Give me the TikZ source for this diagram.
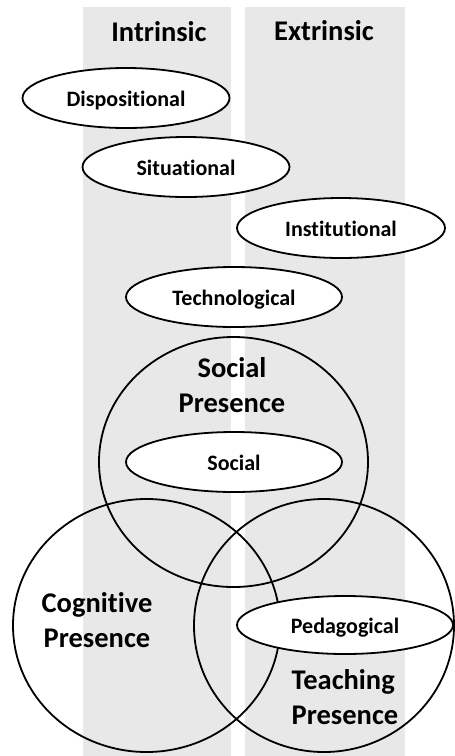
\documentclass[tikz,border=0pt]{standalone}
\usepackage{fontspec}
\setmainfont[Ligatures=NoCommon]{Carlito}
\usetikzlibrary{shapes.geometric}
\definecolor{colgray}{RGB}{232,232,232}
\begin{document}
\begin{tikzpicture}[x=1pt,y=-1pt,
  column/.style={fill=colgray,draw=none},
  factor/.style={ellipse,draw=black,line width=1.8pt,fill=white,inner sep=0pt,
    minimum width=#1,minimum height=60pt,text height=16pt,text depth=0pt,
    font=\fontsize{22}{26}\selectfont\bfseries},
  factor/.default=207pt,
  presence/.style={ellipse,draw=black,line width=1.8pt,inner sep=0pt},
  heading/.style={anchor=base,inner sep=0pt,font=\fontsize{28.5}{34}\selectfont\bfseries},
  biglabel/.style={align=center,inner sep=0pt,font=\fontsize{28.5}{35}\selectfont\bfseries}
]
\useasboundingbox (0,0) rectangle (455,756);
% columns
\fill[column] (83,7) rectangle (231,756);
\fill[column] (245,7) rectangle (405,756);
% headings
\node[heading] (intr) at (159,41.5) {Intrinsic};
\node[heading] (extr) at (324,40) {Extrinsic};
% presence circles
\node[presence,minimum width=269pt,minimum height=250pt] (sp) at (233.5,462) {};
\node[presence,minimum width=267pt,minimum height=253pt] (cp) at (146.5,625.5) {};
\node[presence,minimum width=260pt,minimum height=253pt] (tp) at (324,625.5) {};
% factor ellipses
\node[factor] (disp) at (126,98) {Dispositional};
\node[factor] (sit) at (186,167) {Situational};
\node[factor=208pt] (inst) at (341,228) {Institutional};
\node[factor=216pt] (tech) at (234,297) {Technological};
\node[factor=216pt] (soc) at (234,462) {Social};
\node[factor=216pt,minimum height=58pt] (ped) at (345,625) {Pedagogical};
% presence labels
\node[biglabel] (spl) at (232,385) {Social\\Presence};
\node[biglabel] (cpl) at (97,620) {Cognitive\\Presence};
\node[biglabel,align=left] (tpl) at (345,697.5) {Teaching\\Presence};
\end{tikzpicture}
\end{document}
